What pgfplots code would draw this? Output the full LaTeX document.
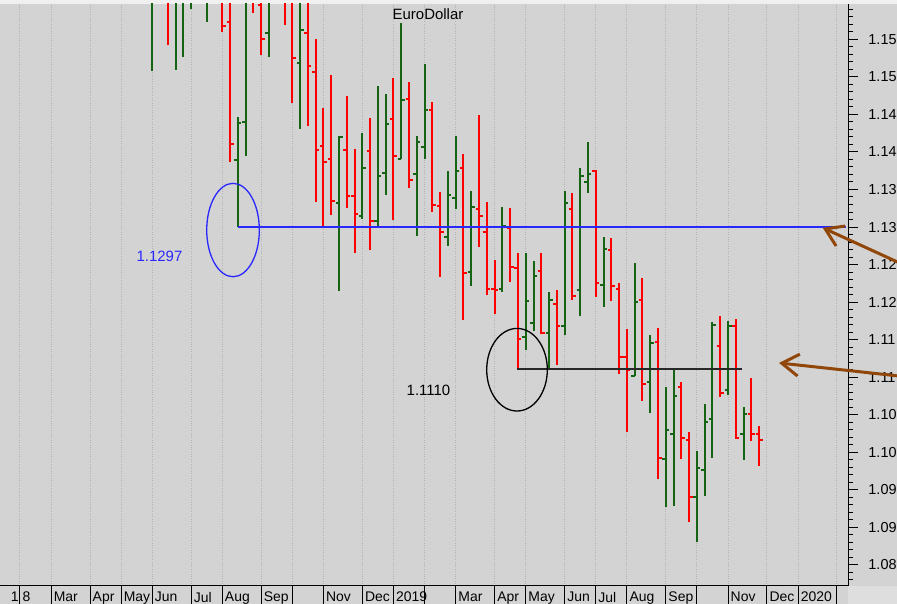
\documentclass[border=0pt]{standalone}
\usepackage{pgfplots}
\pgfplotsset{compat=1.18}
\usepackage{pgfplotstable}
\usetikzlibrary{arrows.meta}
\usepackage{fontspec}
\setmainfont{Liberation Sans}

\definecolor{bggray}{RGB}{211,211,211}
\definecolor{toplight}{RGB}{240,240,240}
\definecolor{cornerlight}{RGB}{222,222,222}
\definecolor{upgreen}{RGB}{20,100,20}
\definecolor{downred}{RGB}{255,0,0}
\definecolor{gridgray}{RGB}{178,178,178}
\definecolor{annblue}{RGB}{40,40,255}
\definecolor{annblack}{RGB}{40,40,40}
\definecolor{arrowbrown}{RGB}{145,70,10}

\pgfdeclareplotmark{otick}{\pgfpathmoveto{\pgfqpoint{-3.5bp}{0pt}}\pgfpathlineto{\pgfqpoint{0pt}{0pt}}\pgfusepathqstroke}
\pgfdeclareplotmark{ctick}{\pgfpathmoveto{\pgfqpoint{0pt}{0pt}}\pgfpathlineto{\pgfqpoint{3.5bp}{0pt}}\pgfusepathqstroke}

% weekly bars, k = week index (0 = first week of Feb 2018)
\pgfplotstableread{
k o h l c
17 1.1640 1.1720 1.1508 1.1660
20 1.1610 1.1680 1.1509 1.1655
21 1.1655 1.1720 1.1527 1.1685
22 1.1680 1.1790 1.1590 1.1745
24 1.1690 1.1750 1.1573 1.1720
28 1.1389 1.1446 1.1300 1.1439
29 1.1440 1.1650 1.1394 1.1620
32 1.1559 1.1700 1.1526 1.1625
36 1.1518 1.1620 1.1431 1.1562
41 1.1332 1.1421 1.1215 1.1420
44 1.1315 1.1425 1.1311 1.1378
46 1.1308 1.1488 1.1299 1.1368
47 1.1372 1.1477 1.1343 1.1437
49 1.1391 1.1572 1.1390 1.1469
51 1.1370 1.1421 1.1288 1.1413
52 1.1406 1.1517 1.1390 1.1456
55 1.1287 1.1374 1.1275 1.1342
56 1.1338 1.1421 1.1324 1.1375
58 1.1240 1.1348 1.1222 1.1327
62 1.1218 1.1327 1.1214 1.1302
65 1.1154 1.1266 1.1136 1.1202
66 1.1172 1.1255 1.1161 1.1235
68 1.1159 1.1213 1.1109 1.1203
70 1.1168 1.1348 1.1156 1.1332
72 1.1216 1.1378 1.1181 1.1368
73 1.1360 1.1413 1.1345 1.1370
75 1.1223 1.1287 1.1194 1.1271
79 1.1102 1.1252 1.1101 1.1200
81 1.1093 1.1156 1.1052 1.1145
83 1.0991 1.1087 1.0927 1.1030
84 1.1025 1.1112 1.0929 1.1075
87 1.0941 1.1002 1.0881 1.0979
88 1.0976 1.1065 1.0942 1.1041
89 1.1044 1.1174 1.0993 1.1170
91 1.1083 1.1175 1.1076 1.1168
93 1.1024 1.1060 1.0990 1.1051
}\upbars

\pgfplotstableread{
k o h l c
19 1.1770 1.1850 1.1542 1.1610
26 1.1655 1.1710 1.1560 1.1568
27 1.1573 1.1610 1.1386 1.1411
30 1.1625 1.1670 1.1585 1.1605
31 1.1596 1.1660 1.1529 1.1551
34 1.1750 1.1780 1.1569 1.1610
35 1.1615 1.1640 1.1465 1.1525
37 1.1558 1.1625 1.1434 1.1514
38 1.1507 1.1551 1.1334 1.1403
39 1.1408 1.1458 1.1300 1.1386
40 1.1391 1.1502 1.1316 1.1335
42 1.1403 1.1475 1.1326 1.1341
43 1.1341 1.1404 1.1266 1.1317
45 1.1401 1.1445 1.1269 1.1308
48 1.1444 1.1499 1.1309 1.1395
50 1.1470 1.1493 1.1352 1.1363
53 1.1456 1.1466 1.1320 1.1330
54 1.1328 1.1346 1.1234 1.1294
57 1.1378 1.1397 1.1176 1.1239
59 1.1324 1.1449 1.1274 1.1315
60 1.1294 1.1334 1.1209 1.1218
61 1.1218 1.1256 1.1184 1.1216
63 1.1299 1.1326 1.1227 1.1247
64 1.1246 1.1265 1.1111 1.1151
67 1.1241 1.1266 1.1158 1.1159
69 1.1197 1.1216 1.1116 1.1168
71 1.1324 1.1345 1.1203 1.1208
74 1.1375 1.1376 1.1207 1.1226
76 1.1269 1.1286 1.1201 1.1221
77 1.1218 1.1226 1.1104 1.1127
78 1.1127 1.1164 1.1027 1.1110
80 1.1203 1.1232 1.1069 1.1091
82 1.1147 1.1165 1.0964 1.0992
85 1.1087 1.1093 1.0991 1.1019
86 1.1016 1.1027 1.0907 1.0941
90 1.1142 1.1181 1.1074 1.1079
92 1.1168 1.1178 1.1018 1.1019
94 1.1051 1.1099 1.1015 1.1025
95 1.1025 1.1035 1.0982 1.1017
}\downbars

\begin{document}
\begin{tikzpicture}
\path[use as bounding box] (0,0) rectangle (897bp,604bp);
\fill[bggray] (0,0) rectangle (897bp,604bp);
\fill[toplight] (0,600bp) rectangle (897bp,604bp);
\fill[cornerlight] (848bp,0) rectangle (897bp,18bp);
\begin{axis}[
  at={(0bp,18bp)}, anchor=south west,
  scale only axis, width=848bp, height=582bp,
  xmin=-2.57, xmax=106.42, ymin=1.0822, ymax=1.1597,
  clip mode=individual,
  axis x line*=bottom, axis y line*=right,
  axis line style={black, line width=1bp},
  tick align=outside,
  xtick={0,4,9,13,17,22,26,31,35,39,44,48,52,56,61,65,70,74,78,83,87,91,96,100,105},
  xticklabels={{\llap{1\hspace{4bp}}8},Mar,Apr,May,Jun,Jul,Aug,Sep,,Nov,Dec,2019,,Mar,Apr,May,Jun,Jul,Aug,Sep,,Nov,Dec,2020,},
  xtick style={black, line width=1bp, /pgfplots/major tick length=18bp},
  xticklabel style={font=\fontsize{14}{16}\selectfont, anchor=north west, inner sep=0pt, xshift=2.5bp, yshift=-1.5bp},
  xmajorgrids, major x grid style={gridgray, dotted, line width=1bp},
  ytick={1.085,1.09,1.095,1.1,1.105,1.11,1.115,1.12,1.125,1.13,1.135,1.14,1.145,1.15,1.155},
  yticklabels={1.08,1.09,1.09,1.10,1.10,1.11,1.11,1.12,1.12,1.13,1.13,1.14,1.14,1.15,1.15},
  minor ytick={1.083,1.084,1.086,1.087,1.088,1.089,1.091,1.092,1.093,1.094,1.096,1.097,1.098,1.099,1.101,1.102,1.103,1.104,1.106,1.107,1.108,1.109,1.111,1.112,1.113,1.114,1.116,1.117,1.118,1.119,1.121,1.122,1.123,1.124,1.126,1.127,1.128,1.129,1.131,1.132,1.133,1.134,1.136,1.137,1.138,1.139,1.141,1.142,1.143,1.144,1.146,1.147,1.148,1.149,1.151,1.152,1.153,1.154,1.156,1.157,1.158,1.159},
  ytick style={black, line width=1bp, /pgfplots/major tick length=10bp, /pgfplots/minor tick length=5bp},
  yticklabel style={font=\fontsize{14.5}{16}\selectfont, anchor=west, inner sep=0pt, xshift=16bp},
]
% up weeks
\addplot[draw=none, mark=none, forget plot,
  error bars/.cd, y dir=plus, y explicit, error mark=none,
  error bar style={draw=upgreen, line width=2bp}]
  table[x=k, y=l, y error plus expr=\thisrow{h}-\thisrow{l}] {\upbars};
\addplot[only marks, mark=otick, mark options={draw=upgreen, line width=2bp}] table[x=k, y=o] {\upbars};
\addplot[only marks, mark=ctick, mark options={draw=upgreen, line width=2bp}] table[x=k, y=c] {\upbars};
% down weeks
\addplot[draw=none, mark=none, forget plot,
  error bars/.cd, y dir=plus, y explicit, error mark=none,
  error bar style={draw=downred, line width=2bp}]
  table[x=k, y=l, y error plus expr=\thisrow{h}-\thisrow{l}] {\downbars};
\addplot[only marks, mark=otick, mark options={draw=downred, line width=2bp}] table[x=k, y=o] {\downbars};
\addplot[only marks, mark=ctick, mark options={draw=downred, line width=2bp}] table[x=k, y=c] {\downbars};

% annotations
\node[font=\fontsize{15}{17}\selectfont, black] at (axis cs:52.44,1.1584) {EuroDollar};
\draw[annblue, line width=1.8bp] (axis cs:28,1.1300) -- (axis cs:106.2,1.1300);
\draw[annblue, line width=1.3bp] (axis cs:27.38,1.1296) ellipse [x radius=26.3bp, y radius=46.7bp];
\node[annblue, font=\fontsize{15}{17}\selectfont] at (axis cs:17.93,1.1261) {1.1297};
\draw[annblack, line width=1.8bp] (axis cs:63.9,1.1111) -- (axis cs:92.8,1.1111);
\draw[black, line width=1.3bp] (axis cs:63.88,1.1110) ellipse [x radius=30.3bp, y radius=41.3bp];
\node[black, font=\fontsize{15}{17}\selectfont] at (axis cs:52.5,1.1083) {1.1110};
\draw[arrowbrown, line width=3bp, -{Straight Barb[length=17bp,width=22bp]}] (axis cs:113.5,1.1250) -- (axis cs:103.17,1.1299);
\draw[arrowbrown, line width=3bp, -{Straight Barb[length=17bp,width=22bp]}] (axis cs:113.5,1.1101) -- (axis cs:97.56,1.1119);
\end{axis}
\end{tikzpicture}
\end{document}
